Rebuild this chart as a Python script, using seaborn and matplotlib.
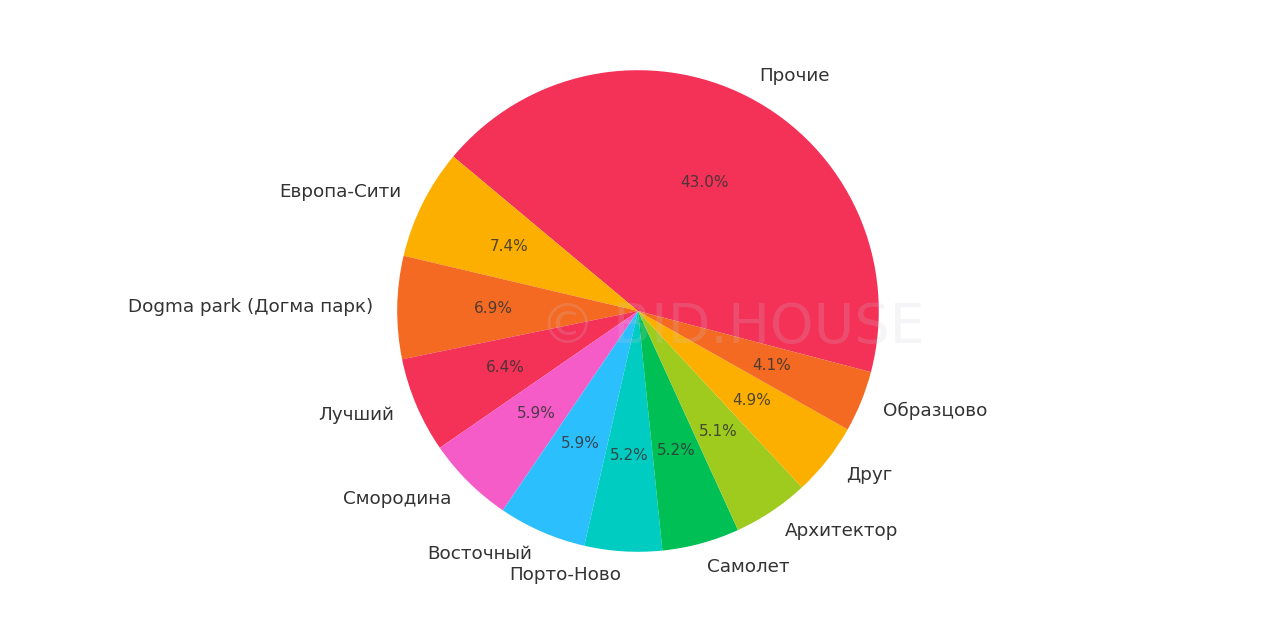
import matplotlib
matplotlib.use("Agg")
import matplotlib.pyplot as plt
import seaborn as sns

# Data
labels = ["Прочие", "Европа-Сити", "Dogma park (Догма парк)", "Лучший", "Смородина",
          "Восточный", "Порто-Ново", "Самолет", "Архитектор", "Друг", "Образцово"]
shares = [43.0, 7.4, 6.9, 6.4, 5.9, 5.9, 5.2, 5.2, 5.1, 4.9, 4.1]
colors = ["#F43157", "#FDAF00", "#F46A22", "#F43157", "#F55CC8",
          "#2CBFFE", "#00CCC2", "#00BF55", "#9ECB1E", "#FDAF00", "#F46A22"]

sns.set_theme(style="white")
plt.rcParams["font.family"] = ["DejaVu Sans"]

fig = plt.figure(figsize=(12.8, 6.4), dpi=100)
ax = fig.add_axes([337 / 1280, 28 / 640, 602 / 1280, 602 / 640])

wedges, texts, autotexts = ax.pie(
    shares, labels=labels, colors=colors, autopct="%1.1f%%",
    startangle=-14.7, counterclock=True, labeldistance=1.1, pctdistance=0.6,
    wedgeprops={"linewidth": 0},
    textprops={"fontsize": 13.2, "color": "#333333"},
)
for t in autotexts:
    t.set_fontsize(11)
    t.set_color("#333333")
    t.set_alpha(0.85)
ax.set_aspect("equal")

# Watermark
fig.text(732 / 1280, 1 - 328 / 640, "© BID.HOUSE", fontsize=40, color="#c8c8d4",
         alpha=0.18, ha="center", va="center")

fig.savefig("out.png", dpi=100, facecolor="white")
